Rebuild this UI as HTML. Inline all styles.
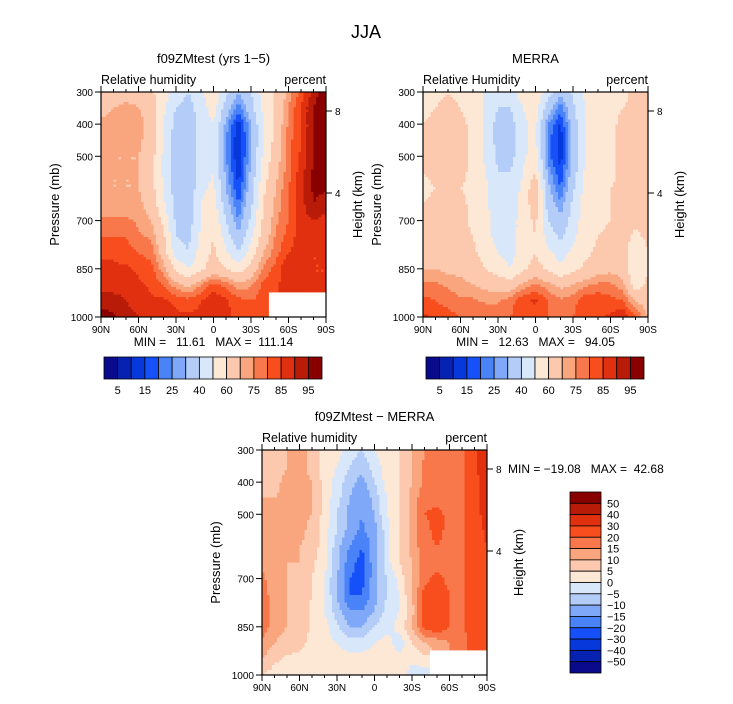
<!DOCTYPE html>
<html><head><meta charset="utf-8"><style>
body{margin:0;background:#fff;}
svg text{font-family:"Liberation Sans",sans-serif;fill:#000;white-space:pre;}
</style></head><body>
<svg id="s" width="733" height="699" viewBox="0 0 733 699" xmlns="http://www.w3.org/2000/svg"></svg>
<script>
const lats=[90,80,70,60,50,40,30,20,10,0,-10,-20,-30,-40,-50,-60,-70,-80,-90];
const pres=[300,350,400,450,500,550,600,650,700,750,800,850,900,950,1000];
const N=null;
const modelRH=[
[62,65,66,68,62,55,45,40,48,58,42,30,40,55,62,72,82,92,100],
[66,70,72,70,64,52,40,36,45,55,35,22,36,52,62,75,85,95,100],
[72,74,70,74,65,50,36,33,44,50,28,12,30,50,64,76,85,95,100],
[74,72,70,72,65,50,35,32,45,48,25,10,28,50,64,78,85,95,100],
[73,70,70,70,65,48,34,32,46,48,25,10,30,52,66,78,86,95,100],
[70,70,70,70,64,48,34,32,47,50,28,12,32,55,68,78,88,96,100],
[70,70,70,70,64,50,35,32,48,52,30,15,35,58,70,80,88,96,96],
[72,72,72,72,66,52,36,34,50,55,34,20,38,60,72,80,88,95,92],
[76,76,76,74,70,58,38,35,50,58,40,25,42,62,74,80,88,90,88],
[80,80,80,76,74,62,40,38,52,60,45,32,48,65,76,82,88,86,85],
[84,84,82,80,78,66,45,40,55,62,52,40,55,70,78,85,88,85,85],
[86,86,86,84,82,72,58,50,58,64,60,55,64,76,82,90,85,85,85],
[88,88,88,86,84,80,72,68,75,82,78,72,74,82,84,88,88,85,85],
[92,92,90,88,86,86,84,82,85,90,86,82,80,82,N,N,N,N,N],
[98,96,92,90,88,86,86,86,86,86,86,84,80,80,N,N,N,N,N]];
const merraRH=[
[55,58,60,58,55,48,45,45,55,58,45,32,42,52,55,55,58,62,65],
[58,60,62,60,56,48,40,40,50,55,35,22,38,50,55,58,60,62,65],
[60,62,62,62,58,48,36,36,48,52,25,14,35,50,56,58,62,64,65],
[62,62,62,62,58,48,36,36,48,52,22,12,32,50,56,58,62,64,65],
[62,62,62,62,58,48,38,36,48,55,22,12,32,50,56,58,62,64,65],
[60,62,62,62,58,50,40,40,50,60,28,16,35,52,56,58,62,64,65],
[58,60,60,60,58,52,44,44,52,68,32,20,38,54,58,60,62,64,66],
[60,62,64,62,58,52,45,45,54,66,36,26,42,55,58,60,62,64,66],
[62,64,64,62,58,52,46,45,55,62,40,32,45,55,58,60,62,62,64],
[64,64,64,64,60,54,46,45,55,60,46,38,48,56,60,62,64,58,62],
[66,66,66,66,62,56,50,46,56,60,52,46,52,58,62,64,64,52,60],
[70,70,68,68,64,60,56,50,58,64,58,52,58,62,66,68,66,50,60],
[76,76,74,72,70,68,66,65,72,76,72,68,70,74,76,76,72,55,62],
[82,80,78,76,76,74,74,78,84,86,80,76,78,84,84,82,80,70,66],
[86,84,82,80,80,80,80,80,82,82,80,78,80,82,84,86,90,80,70]];
const diffRH=[
[8,6,10,12,8,3,2,-3,-5,0,3,5,10,15,16,18,18,28,38],
[8,6,10,12,8,3,0,-5,-8,-3,3,5,10,16,16,18,18,28,38],
[8,8,12,12,10,3,-2,-8,-12,-5,2,5,10,16,16,15,18,26,36],
[10,10,12,12,10,3,-3,-10,-15,-8,0,5,12,18,18,15,18,26,35],
[12,10,12,12,10,3,-5,-12,-15,-10,0,5,12,20,22,18,18,26,34],
[12,10,12,12,8,2,-5,-12,-16,-12,-2,5,12,18,22,18,18,25,32],
[12,10,12,10,8,2,-8,-15,-20,-12,-2,5,12,18,20,18,18,25,30],
[14,12,10,10,6,2,-8,-18,-22,-12,-2,5,10,18,18,18,18,25,28],
[16,12,10,8,5,0,-10,-20,-22,-12,-5,2,10,18,22,18,18,25,28],
[18,12,10,8,5,0,-10,-20,-20,-12,-5,0,10,22,25,20,18,25,28],
[18,12,10,8,4,0,-8,-15,-15,-10,-3,0,8,22,25,20,18,25,28],
[18,12,10,8,4,2,-4,-10,-10,-5,-2,2,10,22,24,20,18,25,28],
[14,10,8,6,4,2,0,-3,-3,0,2,-3,5,10,12,15,18,24,26],
[10,6,4,4,3,2,2,2,2,3,3,2,2,3,N,N,N,N,N],
[5,3,3,3,3,3,3,3,3,3,3,3,-3,-3,N,N,N,N,N]];
const rhLevels=[5,10,15,20,25,30,40,50,60,70,75,80,85,90,95];
const rhLabels=["5","15","25","40","60","75","85","95"];
const dLevels=[-50,-40,-30,-20,-15,-10,-5,0,5,10,15,20,30,40,50];
const dLabels=["50","40","30","20","15","10","5","0","\u22125","\u221210","\u221215","\u221220","\u221230","\u221240","\u221250"];
const colors=["#0a0a8c","#0622b0","#0638dc","#1650f8","#4a82f8","#80a8f8","#b4ccf8","#d8e8fa","#fde8d6","#fcc8ae","#f9a57e","#f8784c","#f84e1e","#e03010","#b81c08","#880000"];
const latTicks=["90N","60N","30N","0","30S","60S","90S"];
const presTicks=[300,400,500,700,850,1000];
const NS="http://www.w3.org/2000/svg";
const S=document.getElementById('s');
function mk(t,a,p){const e=document.createElementNS(NS,t);for(const k in a)e.setAttribute(k,a[k]);(p||S).appendChild(e);return e;}
function txt(x,y,s,sz,anchor,p,rot){const e=mk('text',{x:x,y:y,'font-size':sz,'text-anchor':anchor||'start'},p);if(rot)e.setAttribute('transform','rotate(-90 '+x+' '+y+')');e.textContent=s;return e;}
function bin(v,lv){let i=0;while(i<lv.length&&v>=lv[i])i++;return i;}
function val(data,lat,p){
  let c=(90-lat)/10, r=(p-300)/50;
  if(data[Math.round(r)][Math.round(c)]===null)return null;
  let c0=Math.min(17,Math.floor(c)),r0=Math.min(13,Math.floor(r));
  let fc=c-c0,fr=r-r0;
  const pts=[[r0,c0,(1-fc)*(1-fr)],[r0,c0+1,fc*(1-fr)],[r0+1,c0,(1-fc)*fr],[r0+1,c0+1,fc*fr]];
  let s=0,w=0;
  pts.forEach(([a,b,k])=>{const v=data[a][b];if(v!==null){s+=v*k;w+=k;}});
  return w>0?s/w:null;
}
function panel(name,x0,y0,data,levels,title,sub,minmax){
  const W=225,H=225;
  const g=mk('g',{});
  const X=lat=>x0+(90-lat)/180*W;
  const Y=p=>y0+(p-300)/700*H;
  const step=2.5;
  const cells=mk('g',{},g);
  for(let px=0;px<W;px+=step){for(let py=0;py<H;py+=step){
    const lat=90-(px+step/2)/W*180, p=300+(py+step/2)/H*700;
    const v=val(data,lat,p); if(v===null)continue;
    mk('rect',{x:x0+px,y:y0+py,width:step+0.4,height:step+0.4,fill:colors[bin(v,levels)]},cells);
  }}
  mk('rect',{x:x0,y:y0,width:W,height:H,fill:'none',stroke:'#000','stroke-width':1.2,},g);
  for(let i=0;i<=18;i++){const x=X(90-i*10);const l=i%3==0?6:3;
    mk('line',{x1:x,y1:y0,x2:x,y2:y0-l,stroke:'#000'},g);
    mk('line',{x1:x,y1:y0+H,x2:x,y2:y0+H+l,stroke:'#000'},g);}
  latTicks.forEach((t,i)=>{const tt=txt(X(90-i*30),y0+H+16,t,10,'middle',g);});
  presTicks.forEach(p=>{mk('line',{x1:x0,y1:Y(p),x2:x0-6,y2:Y(p),stroke:'#000'},g);
    const tt=txt(x0-8,Y(p)+4,String(p),10,'end',g);});
  [[8,19],[4,101]].forEach(([k,dy])=>{mk('line',{x1:x0+W,y1:y0+dy,x2:x0+W+6,y2:y0+dy,stroke:'#000'},g);txt(x0+W+9,y0+dy+4,String(k),10,'start',g);});
  const yt=txt(x0-42,y0+H/2,'Pressure (mb)',13,'middle',g,true);
  const ht=txt(x0+W+36,y0+H/2,'Height (km)',13,'middle',g,true);
  const t1=txt(x0+W/2,y0-29,title,13,'middle',g);
  const t2=txt(x0,y0-8,sub,12.5,'start',g);
  const t3=txt(x0+W,y0-8,'percent',12.5,'end',g);
  if(minmax){const m=txt(x0+W/2,y0+H+29,minmax,12,'middle',g);}
}
function hbar(name,x0,y0){
  const g=mk('g',{});
  const w=218/16;
  colors.forEach((c,i)=>mk('rect',{x:x0+i*w,y:y0,width:w,height:22,fill:c,stroke:'#000','stroke-width':0.8},g));
  rhLabels.forEach((l,i)=>txt(x0+(2*i+1)*w,y0+37,l,11,'middle',g));
}
function vbar(name,x0,y0){
  const g=mk('g',{});
  const h=181/16;
  colors.slice().reverse().forEach((c,i)=>mk('rect',{x:x0,y:y0+i*h,width:31,height:h,fill:c,stroke:'#000','stroke-width':0.8},g));
  dLabels.forEach((l,i)=>txt(x0+37,y0+(i+1)*h+4,l,11,'start',g));
}
const t=txt(366,38,'JJA',18,'middle');
panel('model-panel',101,92,modelRH,rhLevels,'f09ZMtest (yrs 1\u22125)','Relative humidity','MIN =   11.61   MAX =  111.14');
panel('merra-panel',423,92,merraRH,rhLevels,'MERRA','Relative Humidity','MIN =   12.63   MAX =   94.05');
panel('diff-panel',262,450,diffRH,dLevels,'f09ZMtest \u2212 MERRA','Relative humidity',null);
hbar('model-colorbar',104,357);
hbar('merra-colorbar',426,357);
vbar('diff-colorbar',570,492);
const dm=txt(508,473,'MIN = \u221219.08   MAX =  42.68',12,'start');
</script>
</body></html>
